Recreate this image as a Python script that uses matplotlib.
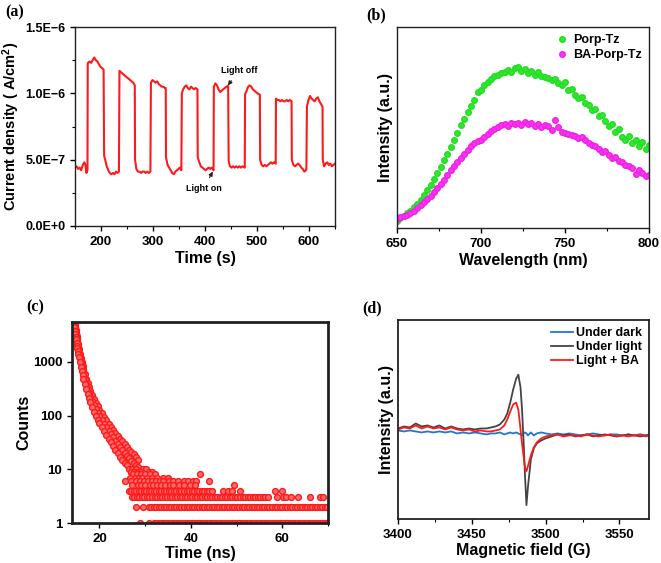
import numpy as np
import matplotlib
matplotlib.use("Agg")
import matplotlib.pyplot as plt
from matplotlib.ticker import MultipleLocator, FixedLocator, NullLocator, NullFormatter

plt.rcParams['font.family'] = ['Liberation Sans', 'DejaVu Sans']
plt.rcParams['font.weight'] = 'bold'
plt.rcParams['axes.labelweight'] = 'bold'
plt.rcParams['mathtext.fontset'] = 'custom'
plt.rcParams['mathtext.rm'] = 'Liberation Sans:bold'
plt.rcParams['mathtext.bf'] = 'Liberation Sans:bold'
plt.rcParams['mathtext.default'] = 'bf'

# ---- (a) photocurrent response ----
pc_time = [150, 153, 156, 159, 162, 165, 168, 170, 172, 174,
           174.5, 175, 178, 181, 184, 187, 190, 193, 196, 199, 202, 205,
           206, 208, 211, 214, 217, 220, 223, 226, 229, 232, 234.5,
           235.5, 238, 241, 244, 247, 250, 253, 256, 259, 262, 265,
           265.5, 268, 271, 274, 277, 280, 283, 286, 289, 292, 295,
           296, 299, 302, 305, 308, 311, 314, 317, 320, 323, 324.5,
           325, 328, 331, 334, 337, 340, 343, 346, 349, 352, 354.5,
           355.5, 358, 361, 364, 367, 370, 373, 376, 379, 382, 385.5,
           386, 389, 392, 395, 398, 401, 404, 407, 410, 413, 416.5,
           417, 420, 423, 426, 429, 432, 435, 438, 441, 443, 444.5,
           445.5, 448, 451, 454, 457, 460, 463, 466, 469, 472, 476.5,
           477, 480, 483, 486, 489, 492, 495, 498, 501, 505.5,
           506, 509, 512, 515, 518, 521, 524, 527, 530, 533, 536,
           536.5, 539, 542, 545, 548, 551, 554, 557, 560, 563, 566.5,
           567, 570, 573, 576, 579, 582, 585, 588, 591, 594, 595,
           596, 599, 602, 605, 608, 611, 614, 617, 620, 623, 626,
           626.5, 629, 632, 635, 638, 641, 644, 647, 650]
pc_current = [4.4, 4.5, 4.3, 4.4, 4.2, 4.6, 4.8, 4.6, 4.0, 4.2,
              12.2, 12.3, 12.4, 12.3, 12.5, 12.7, 12.5, 12.4, 12.2, 12.0, 11.9, 11.8,
              5.3, 5.0, 4.5, 4.2, 4.0, 3.9, 4.0, 3.9, 4.1, 4.0, 4.1,
              11.7, 11.6, 11.5, 11.4, 11.3, 11.2, 11.1, 11.0, 10.9, 10.8, 10.6,
              5.0, 4.3, 4.1, 4.1, 4.0, 4.1, 4.1, 4.0, 4.1, 4.0, 4.1,
              10.8, 11.0, 10.9, 10.8, 10.9, 10.7, 10.6, 10.5, 10.5, 10.4, 10.4,
              5.2, 4.6, 4.4, 4.2, 4.0, 3.9, 4.1, 4.2, 4.3, 4.4, 4.2,
              10.0, 10.3, 10.5, 10.6, 10.4, 10.3, 10.5, 10.4, 10.3, 10.4, 10.3,
              5.2, 4.8, 4.5, 4.4, 4.3, 4.2, 4.3, 4.4, 4.3, 4.4, 4.2,
              10.5, 10.75, 10.6, 10.3, 10.1, 10.2, 10.3, 10.4, 10.5, 10.5, 10.6,
              4.9, 4.5, 4.4, 4.5, 4.4, 4.5, 4.4, 4.5, 4.4, 4.5, 4.4,
              9.9, 10.2, 10.5, 10.6, 10.5, 10.3, 10.2, 10.1, 10.0, 9.9,
              5.0, 4.6, 4.5, 4.6, 4.5, 4.6, 4.7, 4.8, 4.7, 4.8, 4.7,
              9.6, 9.5, 9.5, 9.4, 9.5, 9.4, 9.4, 9.5, 9.4, 9.5, 9.4,
              5.0, 4.6, 4.5, 4.6, 4.7, 4.6, 4.4, 4.3, 4.1, 4.2, 4.3,
              9.0, 9.5, 9.8, 9.6, 9.5, 9.4, 9.6, 9.7, 9.4, 9.2, 9.0,
              5.0, 4.5, 4.7, 4.8, 4.6, 4.7, 4.5, 4.6, 4.7]
pc_yticks = [0, 5e-7, 1e-6, 1.5e-6]
pc_ylabels = ['0.0E+0', '5.0E\u22127', '1.0E\u22126', '1.5E\u22126']

# ---- (b) PL spectra ----
wl = list(range(650, 802, 2))
pl_porp = [3.5, 5.0, 6.0, 7.5, 8.5, 10.5, 12.0, 14.0, 16.5, 19.0,
           21.5, 24.5, 27.5, 30.5, 34.0, 37.0, 40.5, 44.0, 47.5, 51.0,
           54.0, 57.5, 60.5, 63.5, 67.5, 68.5, 71.0, 72.5, 74.0, 75.5,
           76.0, 77.0, 77.5, 78.5, 77.8, 79.5, 80.0, 78.0, 79.0, 77.0,
           78.0, 76.0, 77.5, 75.5, 75.0, 74.5, 73.5, 74.0, 72.0, 71.0,
           72.5, 68.5, 69.0, 66.0, 64.5, 65.0, 62.0, 61.0, 58.5, 59.0,
           55.5, 56.0, 53.0, 50.5, 51.5, 48.0, 49.5, 45.5, 44.0, 46.0,
           42.5, 44.0, 41.0, 43.0, 39.5, 41.5]
pl_ba_porp = [4.5, 5.5, 6.0, 6.5, 7.5, 8.5, 10.0, 11.5, 13.0, 14.5,
              16.0, 18.0, 20.0, 22.0, 24.0, 26.5, 29.0, 31.0, 33.0, 35.0,
              37.0, 39.0, 41.0, 42.5, 43.5, 44.0, 45.5, 47.0, 48.5, 49.5,
              50.0, 51.0, 51.5, 50.5, 52.0, 51.5, 52.0, 51.0, 52.5, 51.5,
              52.0, 50.5, 51.5, 50.0, 51.0, 50.5, 49.0, 53.5, 50.0, 48.0,
              47.5, 47.0, 46.5, 46.0, 45.0, 45.5, 44.0, 42.5, 41.5, 41.0,
              39.5, 38.0, 38.5, 36.5, 35.0, 35.5, 33.5, 33.0, 31.5, 31.0,
              30.0, 27.0, 29.0, 27.5, 26.0, 26.5]

# ---- (c) TRPL decay ----
decay_t = [14.2, 14.3, 14.4, 14.5, 14.6, 14.7, 14.8, 14.9, 15.0, 15.1,
           15.2, 15.3, 15.4, 15.5, 15.7, 15.9, 16.1, 16.3, 16.5, 16.8,
           17.1, 17.4, 17.7, 18.0, 18.4, 18.8, 19.2, 19.6, 20.0, 20.5,
           21.0, 21.5, 22.0, 22.5, 23.0, 23.5, 24.0, 24.5, 25.0, 25.5,
           26.0, 26.5, 27.0, 27.5, 28.0, 28.5]
decay_mid = [2600, 4200, 5200, 5000, 4400, 3900, 3400, 3000, 2650, 2350,
             2100, 1850, 1650, 1480, 1200, 980, 820, 690, 590, 470,
             380, 315, 265, 225, 185, 155, 130, 112, 97, 82,
             70, 60, 52, 45, 39, 34, 30, 26, 23, 20,
             18, 16, 14, 13, 12, 11]
decay_hi = [3000, 4800, 5600, 5500, 5000, 4500, 3900, 3400, 3050, 2700,
            2450, 2150, 1900, 1750, 1420, 1180, 990, 840, 720, 580,
            470, 395, 335, 285, 240, 200, 170, 148, 128, 110,
            94, 82, 71, 62, 54, 47, 42, 37, 33, 29,
            26, 23, 21, 19, 17, 15]
decay_lo = [2300, 3600, 4600, 4400, 3800, 3300, 2900, 2600, 2250, 2000,
            1780, 1570, 1400, 1250, 1000, 810, 680, 560, 480, 380,
            305, 250, 210, 175, 143, 118, 98, 84, 72, 60,
            51, 43, 37, 32, 27, 23, 20, 17, 15, 13,
            12, 10, 9, 8, 8, 7]
# sparse single-count channels in the tail
tail_levels = {
    10: [27.2, 28.0, 29.6, 30.2],
    9: [26.8, 27.6, 28.4, 29.2, 30.8, 31.4],
    8: [27.4, 28.2, 29.0, 30.0, 31.0, 32.2, 41.9],
    7: [26.6, 27.8, 28.6, 29.4, 30.4, 31.6, 32.6, 33.8, 35.0],
    6: [25.5, 27.0, 28.0, 28.8, 29.8, 30.6, 31.4, 32.4, 33.2, 34.0, 35.2,
        36.0, 37.2, 38.4, 39.4, 40.4, 41.2, 44.0],
    5: [27.2, 28.4, 29.2, 30.0, 31.0, 31.8, 32.6, 33.4, 34.4, 35.4, 36.2,
        37.4, 38.6, 39.8, 40.8, 49.5],
    4: [47.1, 48.2, 49.1, 50.8, 58.4, 59.9],
    3: [58.8, 60.2, 60.9, 62.0, 63.5, 66.0, 68.2, 68.8],
    2: [28.0, 29.5],
    1: [28.9, 30.8],
}
# (count, first channel, last channel) of nearly continuous rows
tail_rows = [(4, 26.4, 44.9), (3, 27.1, 56.9), (2, 30.8, 70.0), (1, 31.9, 70.0)]

# ---- (d) EPR ----
field = [3400, 3404, 3408, 3412, 3416, 3420, 3424, 3428, 3432, 3436,
         3440, 3444, 3448, 3452, 3456, 3460, 3463, 3466, 3469, 3472,
         3474, 3476, 3478, 3480, 3481.5, 3483, 3484, 3485, 3486, 3487,
         3488, 3490, 3492, 3494, 3497, 3500, 3504, 3508, 3512, 3516,
         3520, 3524, 3528, 3532, 3536, 3540, 3544, 3548, 3552, 3556,
         3560, 3564, 3568, 3570]
epr_dark = [44.5, 44.0, 44.5, 44.0, 43.5, 44.0, 43.5, 44.0, 43.5, 44.0,
            43.0, 43.5, 43.0, 43.5, 43.0, 42.5, 43.0, 43.0, 43.5, 42.5,
            43.0, 43.5, 43.0, 43.5, 43.0, 42.5, 42.0, 43.0, 43.5, 43.0,
            42.0, 43.5, 42.0, 43.0, 43.5, 43.0, 42.5, 43.0, 42.5, 43.0,
            42.5, 42.0, 42.5, 43.0, 42.5, 42.0, 42.5, 42.5, 42.0, 42.5,
            42.0, 42.5, 42.0, 42.5]
epr_light = [45.5, 46.5, 46.0, 48.0, 46.5, 47.0, 46.0, 47.0, 45.5, 46.5,
             45.5, 45.0, 45.5, 45.0, 45.5, 45.5, 46.0, 46.5, 47.5, 50.0,
             53.0, 58.5, 65.0, 70.5, 72.5, 66.0, 55.0, 40.0, 22.0, 7.0,
             16.0, 30.0, 35.5, 38.0, 39.5, 40.5, 41.5, 42.5, 42.0, 42.5,
             41.5, 42.0, 42.5, 41.5, 42.0, 42.5, 42.0, 41.5, 42.0, 42.5,
             42.0, 41.5, 42.0, 42.0]
epr_light_ba = [45.0, 46.0, 45.5, 47.0, 45.5, 46.5, 45.5, 46.0, 45.0, 46.0,
                45.0, 44.5, 45.0, 44.0, 44.5, 44.0, 44.0, 44.5, 45.0, 47.0,
                50.0, 54.0, 57.5, 58.5, 55.0, 45.0, 38.0, 32.0, 26.0, 24.0,
                26.5, 32.0, 36.0, 38.5, 40.5, 41.5, 42.0, 42.5, 41.5, 42.0,
                42.0, 41.5, 42.5, 42.0, 41.5, 42.0, 42.5, 41.5, 42.0, 41.5,
                42.0, 42.5, 41.5, 42.0]

RED = '#ff1a1a'
fig = plt.figure(figsize=(6.61, 5.63), dpi=100)


def panel(l, t, r, b):
    return fig.add_axes([l / 661, 1 - b / 563, (r - l) / 661, (b - t) / 563])


def style(ax, lw=1.0):
    for s in ax.spines.values():
        s.set_linewidth(lw)
        s.set_color('#222222')
    ax.tick_params(which='major', direction='out', length=3.5, width=1, labelsize=9.5)
    ax.tick_params(which='minor', direction='out', length=2, width=0.8)


# (a)
ax = panel(75, 27, 335, 226)
ax.plot(pc_time, np.array(pc_current) * 1e-7, color=RED, lw=1.5)
ax.set_xlim(150, 650)
ax.set_ylim(0, 1.5e-6)
ax.xaxis.set_major_locator(MultipleLocator(100))
ax.xaxis.set_minor_locator(MultipleLocator(50))
ax.yaxis.set_major_locator(FixedLocator(pc_yticks))
ax.set_yticklabels(pc_ylabels)
ax.yaxis.set_minor_locator(MultipleLocator(2.5e-7))
style(ax)
ax.tick_params(axis='y', labelsize=9)
ax.set_xlabel('Time (s)', fontsize=11.5, labelpad=2)
ax.set_ylabel('Current density ( A/cm$^2$)', fontsize=10.5, labelpad=2)
ax.annotate('Light off', xy=(444, 1.06e-6), xytext=(466, 1.175e-6), fontsize=6.5,
            ha='center', va='center',
            arrowprops=dict(arrowstyle='-|>', color='#222222', lw=0.8,
                            mutation_scale=6, shrinkA=3, shrinkB=0))
ax.annotate('Light on', xy=(415, 4.1e-7), xytext=(397, 2.83e-7), fontsize=6.5,
            ha='center', va='center',
            arrowprops=dict(arrowstyle='-|>', color='#222222', lw=0.8,
                            mutation_scale=6, shrinkA=3, shrinkB=0))
fig.text(5 / 661, 1 - 12 / 563, '(a)', family='Liberation Serif', fontsize=11.5,
         weight='bold', va='center')

# (b)
ax = panel(397, 27, 649, 228)
ax.plot(wl, pl_porp, 'o', color='#2ee82e', ms=4, mec='#22dd22', label='Porp-Tz')
ax.plot(wl, pl_ba_porp, 'o', color='#ff33f0', ms=4, mec='#ee22e6', label='BA-Porp-Tz')
ax.set_xlim(650, 800)
ax.set_ylim(0, 100)
ax.xaxis.set_major_locator(MultipleLocator(50))
ax.xaxis.set_minor_locator(MultipleLocator(25))
ax.yaxis.set_major_locator(NullLocator())
style(ax)
ax.set_xlabel('Wavelength (nm)', fontsize=11.5, labelpad=2)
ax.set_ylabel('Intensity (a.u.)', fontsize=11.5, labelpad=3)
ax.legend(loc='upper right', frameon=False, fontsize=9, handletextpad=0.3,
          borderaxespad=0.2, labelspacing=0.2, markerscale=1.0, handlelength=1.2)
fig.text(366 / 661, 1 - 15 / 563, '(b)', family='Liberation Serif', fontsize=11.5,
         weight='bold', va='center')

# (c)
ax = panel(72, 322, 328, 523)
mk = dict(ls='none', marker='o', ms=4.2, mfc='#ff6a6a', mec=RED, mew=1.0)
ax.plot(decay_t, decay_hi, **mk)
ax.plot(decay_t, decay_mid, **mk)
ax.plot(decay_t, decay_lo, **mk)
for lvl, ts in tail_levels.items():
    ax.plot(ts, [lvl] * len(ts), **mk)
for lvl, t0, t1 in tail_rows:
    ts = np.arange(t0, t1 + 0.01, 0.55)
    ax.plot(ts, [lvl] * len(ts), **mk)
ax.set_yscale('log')
ax.set_xlim(14, 70)
ax.set_ylim(1, 5500)
ax.xaxis.set_major_locator(MultipleLocator(20))
ax.xaxis.set_minor_locator(MultipleLocator(10))
ax.yaxis.set_major_locator(FixedLocator([1, 10, 100, 1000]))
ax.set_yticklabels(['1', '10', '100', '1000'])
ax.yaxis.set_minor_locator(NullLocator())
ax.yaxis.set_minor_formatter(NullFormatter())
style(ax, lw=2.0)
ax.set_xlabel('Time (ns)', fontsize=11.5, labelpad=1)
ax.set_ylabel('Counts', fontsize=11.5, labelpad=1)
fig.text(26 / 661, 1 - 307 / 563, '(c)', family='Liberation Serif', fontsize=11.5,
         weight='bold', va='center')

# (d)
ax = panel(398, 320, 649, 519)
ax.plot(field, epr_dark, color='#1f78d1', lw=1.3, label='Under dark')
ax.plot(field, epr_light, color='#444444', lw=1.3, label='Under light')
ax.plot(field, epr_light_ba, color=RED, lw=1.3, label='Light + BA')
ax.set_xlim(3400, 3570)
ax.set_ylim(0, 100)
ax.xaxis.set_major_locator(MultipleLocator(50))
ax.xaxis.set_minor_locator(MultipleLocator(25))
ax.yaxis.set_major_locator(NullLocator())
style(ax, lw=1.3)
ax.set_xlabel('Magnetic field (G)', fontsize=11.5, labelpad=2)
ax.set_ylabel('Intensity (a.u.)', fontsize=11.5, labelpad=3)
ax.legend(loc='upper right', frameon=False, fontsize=9, handlelength=1.8,
          handletextpad=0.2, borderaxespad=0.2, labelspacing=0.15)
fig.text(362 / 661, 1 - 308 / 563, '(d)', family='Liberation Serif', fontsize=11.5,
         weight='bold', va='center')

fig.savefig('out.png', dpi=100)
